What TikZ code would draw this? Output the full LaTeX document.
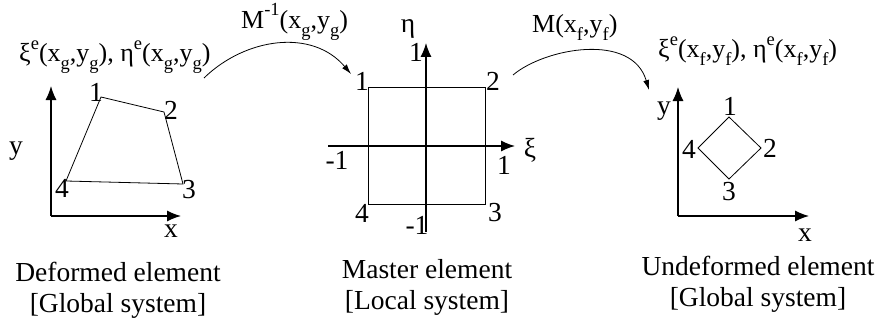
\documentclass[tikz,border=0pt]{standalone}
\usepackage{fontspec}
\setmainfont{Liberation Serif}
\usetikzlibrary{arrows.meta}
\newcommand{\lo}[1]{\raisebox{-0.3em}{\fontsize{18.5}{19}\selectfont #1}}
\newcommand{\hi}[1]{\raisebox{0.5em}{\fontsize{18.5}{19}\selectfont #1}}
\tikzset{
  txt/.style={inner sep=0pt,font=\fontsize{27.5}{31}\selectfont},
  mathtxt/.style={txt,font=\fontsize{26}{31}\selectfont},
  axisline/.style={line width=1.2pt,-{Latex[length=14pt,width=11pt]}},
  shapeline/.style={line width=0.8pt},
  maparrow/.style={line width=0.8pt,-{Latex[length=10pt,width=6pt]}},
  captext/.style={txt,align=center}
}
\begin{document}
\begin{tikzpicture}[x=1pt,y=-1pt]
\useasboundingbox (0,0) rectangle (878,329);
% left
\coordinate (lo) at (51,216); \coordinate (ly) at (51,86); \coordinate (lx) at (181,216);
\draw[axisline] (lo) -- (ly); \draw[axisline] (lo) -- (lx);
\coordinate (q1) at (101,97); \coordinate (q2) at (164,112); \coordinate (q3) at (183,184); \coordinate (q4) at (66,181);
\draw[shapeline] (q1) -- (q2) -- (q3) -- (q4) -- cycle;
\node[txt] (ln1) at (96,92) {1};
\node[txt] (ln2) at (171,110) {2};
\node[txt] (ln3) at (189,190) {3};
\node[txt] (ln4) at (62,188) {4};
\node[txt] (lyl) at (16,151) {y};
\node[txt] (lxl) at (171,231) {x};
\node[mathtxt,anchor=base west] (ltitle) at (19,62) {ξ\hi{e}(x\lo{g},y\lo{g}), η\hi{e}(x\lo{g},y\lo{g})};
\node[captext] (lcap) at (118,290) {Deformed element\\{}[Global system]};
% middle
\coordinate (sa) at (368,87); \coordinate (sb) at (485,204);
\draw[shapeline] (sa) rectangle (sb);
\coordinate (ml) at (328,146); \coordinate (mr) at (515,146); \coordinate (mb) at (426,232); \coordinate (mt) at (426,43);
\draw[axisline] (ml) -- (mr); \draw[axisline] (mb) -- (mt);
\node[txt] (eta) at (408,29) {η};
\node[txt] (xi) at (530,150) {ξ};
\node[txt] (t1) at (416,52) {1};
\node[txt] (n1) at (362,81) {1};
\node[txt] (n2) at (493,81) {2};
\node[txt] (n3) at (495,213) {3};
\node[txt] (n4) at (362,213) {4};
\node[txt] (m1l) at (337,160) {-1};
\node[txt] (m1r) at (504,165) {1};
\node[txt] (m1b) at (417,225) {-1};
\node[captext] (mcap) at (427,287) {Master element\\{}[Local system]};
% right
\coordinate (ro) at (678,216); \coordinate (ry) at (678,87); \coordinate (rx) at (809,216);
\draw[axisline] (ro) -- (ry); \draw[axisline] (ro) -- (rx);
\coordinate (d1) at (729,117); \coordinate (d2) at (761,148); \coordinate (d3) at (729,179); \coordinate (d4) at (698,148);
\draw[shapeline] (d1) -- (d2) -- (d3) -- (d4) -- cycle;
\node[txt] (r1) at (730,106) {1};
\node[txt] (r2) at (770,148) {2};
\node[txt] (r3) at (729,192) {3};
\node[txt] (r4) at (689,149) {4};
\node[txt] (ryl) at (664,111) {y};
\node[txt] (rxl) at (805,235) {x};
\node[mathtxt,anchor=base west] (rtitle) at (658,58) {ξ\hi{e}(x\lo{f},y\lo{f}), η\hi{e}(x\lo{f},y\lo{f})};
\node[captext] (rcap) at (758,284) {Undeformed element\\{}[Global system]};
% maps
\coordinate (a1) at (204,78); \coordinate (a2) at (351,74);
\coordinate (b1) at (513,75); \coordinate (b2) at (649,90);
\draw[maparrow] (a1) .. controls (245,38) and (312,28) .. (a2);
\draw[maparrow] (b1) .. controls (545,48) and (632,32) .. (b2);
\node[mathtxt,anchor=base west] (mi) at (241,29) {M\hi{-1}(x\lo{g},y\lo{g})};
\node[mathtxt,anchor=base west] (mf) at (532,33) {M(x\lo{f},y\lo{f})};
\end{tikzpicture}
\end{document}
